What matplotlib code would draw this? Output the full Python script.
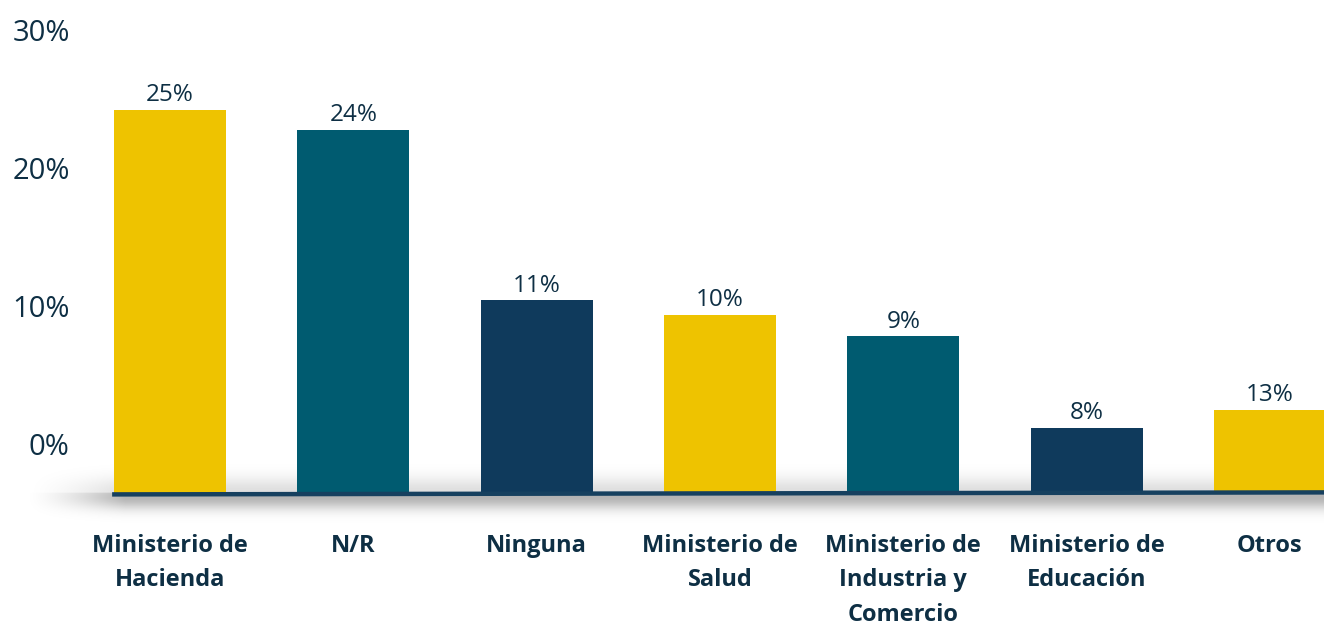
import numpy as np
import matplotlib.pyplot as plt

# data
categories = ["Ministerio de\nHacienda", "N/R", "Ninguna", "Ministerio de\nSalud",
              "Ministerio de\nIndustria y\nComercio", "Ministerio de\nEducación", "Otros"]
labels = ["25%", "24%", "11%", "10%", "9%", "8%", "13%"]
# drawn bar tops, in axis units (the infographic does not match its labels)
bar_tops = [24.2, 22.75, 10.4, 9.35, 7.8, 1.16, 2.46]
base = -3.55
yticks = [0, 10, 20, 30]

yellow, teal, navy = "#EEC300", "#005B70", "#0F3A5C"
colors = [yellow, teal, navy, yellow, teal, navy, yellow]
ink = "#0E2F44"

plt.rcParams['font.family'] = ['Open Sans', 'DejaVu Sans']

fig = plt.figure(figsize=(13.24, 6.26), dpi=100)
ax = fig.add_axes([85 / 1324, 116 / 626, 1 - 85 / 1324, 510 / 626])

x = np.arange(len(categories))
heights = np.array(bar_tops) - base

# soft shadow around the baseline (an alpha gradient image)
y0, y1 = base - 3.0, base + 2.2
x0, x1 = -0.8, 6.4
yy = np.linspace(y1, y0, 120)
xx = np.linspace(x0, x1, 600)
d = (base - yy) * 13.8  # pixels below the line
vert = np.where(d > 0, 0.30 * np.exp(-((d - 4) ** 2) / (2 * 9 ** 2)),
                0.13 * np.exp(-(d ** 2) / (2 * 11 ** 2)))
horiz = np.clip((xx - x0) / 0.55, 0, 1) ** 1.5
alpha = vert[:, None] * horiz[None, :]
img = np.zeros((len(yy), len(xx), 4))
img[..., 3] = alpha
ax.imshow(img, extent=[x0, x1, y0, y1], aspect="auto", zorder=1,
          clip_on=False, interpolation="bilinear")

ax.bar(x, heights, bottom=base, width=0.61, color=colors, zorder=2)
ax.plot([-0.316, 6.5], [base - 0.1, base + 0.05], color="#16405F", lw=3.2,
        solid_capstyle="butt", zorder=3)

for xi, top, lab in zip(x, bar_tops, labels):
    ax.text(xi, top + 0.2, lab, ha="center", va="bottom", fontsize=17.5,
            color=ink)

ax.set_xlim(-0.464, 6.295)
ax.set_ylim(-4.78, 32.17)
ax.set_yticks(yticks)
ax.set_yticklabels([f"{v}%" for v in yticks], fontsize=21, color=ink)
ax.set_xticks(x)
ax.set_xticklabels(categories, fontsize=17, fontweight="bold", color=ink,
                   linespacing=1.6, va="top")
ax.tick_params(length=0)
ax.tick_params(axis="y", pad=11)
ax.tick_params(axis="x", pad=17)
for s in ax.spines.values():
    s.set_visible(False)

fig.savefig("out.png", dpi=100)
plt.close()
